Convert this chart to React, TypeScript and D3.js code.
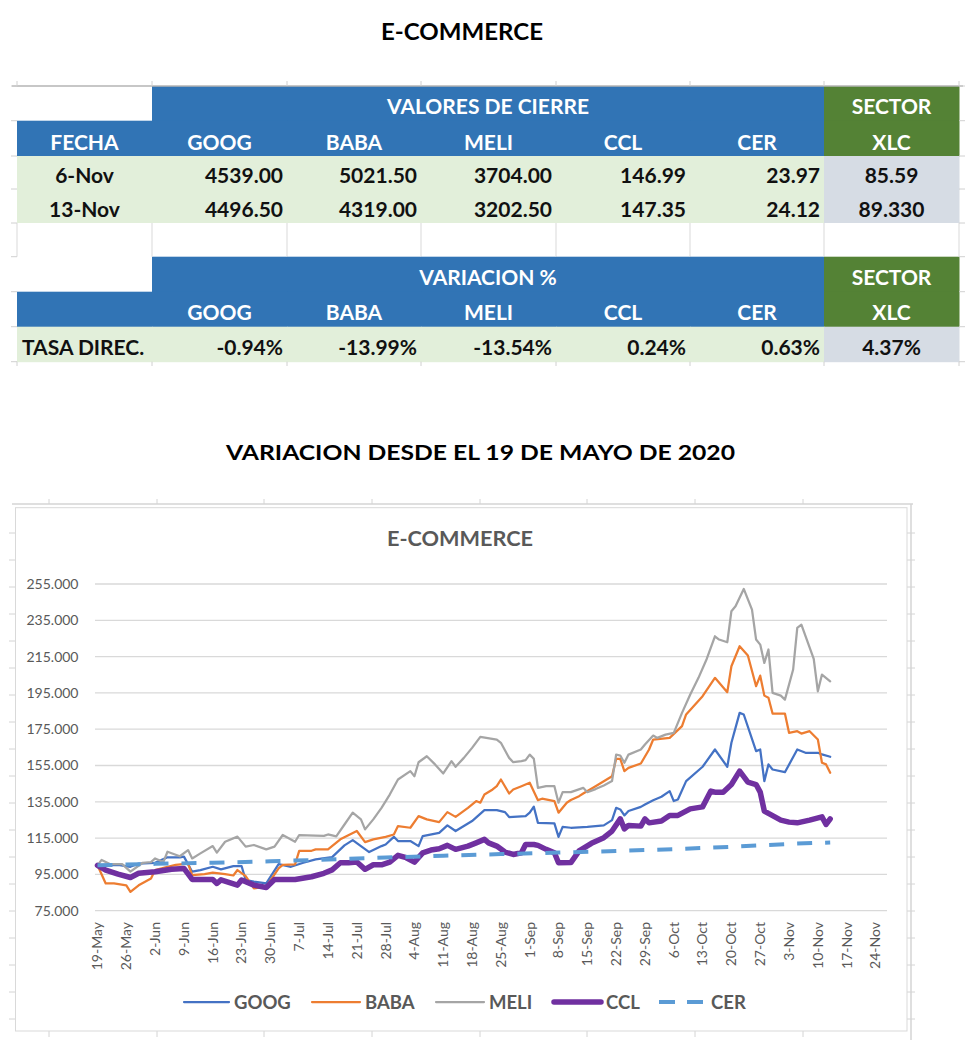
import React from "react";
import * as d3 from "d3";

// ---------- TABLE DATA ----------
const closeHeader = ["FECHA", "GOOG", "BABA", "MELI", "CCL", "CER", "XLC"];
const closeRow1 = ["6-Nov", "4539.00", "5021.50", "3704.00", "146.99", "23.97", "85.59"];
const closeRow2 = ["13-Nov", "4496.50", "4319.00", "3202.50", "147.35", "24.12", "89.330"];
const varHeader = ["", "GOOG", "BABA", "MELI", "CCL", "CER", "XLC"];
const varRow = ["TASA DIREC.", "-0.94%", "-13.99%", "-13.54%", "0.24%", "0.63%", "4.37%"];

// ---------- CHART DATA (days since 19-May-2020, index 19-May = 100) ----------
const googDays = [0, 5, 8, 10, 14, 17, 20, 21, 23, 25, 28, 30, 33, 35, 36, 38, 41, 44, 47, 50, 53, 57, 60, 62, 64, 66, 69, 70, 72, 73, 76, 78, 79, 83, 85, 87, 91, 94, 97, 99, 100, 104, 105, 106, 107, 111, 112, 113, 115, 119, 123, 125, 126, 127, 128, 129, 132, 133, 135, 137, 139, 140, 141, 143, 147, 150, 153, 154, 156, 157, 160, 161, 162, 163, 164, 167, 170, 172, 175, 176, 178];
const googValues = [100, 100.2, 99.2, 101, 101.4, 104.4, 104.4, 104.8, 96.5, 97.4, 99.2, 97.8, 99.6, 99.6, 91.9, 91, 90, 100.7, 99.2, 101.4, 103.3, 104.5, 111, 113.9, 110.6, 107.3, 110.6, 111.5, 115.7, 113.4, 113.4, 110.6, 116.1, 117.9, 122, 118.9, 124.4, 130.4, 130.4, 129.3, 126.6, 127.1, 129, 132.3, 123.4, 123.1, 115.7, 121.2, 120.7, 121.2, 122, 124.9, 131.7, 130.8, 127.5, 129.9, 132.2, 133.5, 135.9, 137.8, 140.9, 135.4, 136.3, 146.4, 154.3, 163.8, 154.3, 167.5, 184, 183.1, 162.9, 163.8, 146.4, 155.6, 152.8, 151.3, 163.8, 162, 162, 161.1, 159.8];

const babaDays = [0, 2, 4, 7, 8, 10, 13, 14, 17, 19, 22, 23, 26, 28, 31, 33, 34, 36, 38, 41, 44, 45, 48, 49, 52, 53, 56, 59, 63, 65, 67, 70, 72, 73, 76, 78, 80, 83, 85, 87, 90, 92, 93, 94, 96, 97, 98, 100, 101, 103, 105, 107, 108, 111, 112, 114, 115, 117, 118, 121, 125, 126, 127, 128, 129, 132, 134, 135, 139, 142, 143, 147, 150, 153, 154, 156, 158, 160, 161, 162, 163, 164, 167, 168, 170, 171, 173, 175, 176, 177, 178];
const babaValues = [100, 90, 90, 89, 85.4, 89, 92.8, 97.4, 99.2, 100.2, 101, 94.6, 95.2, 96, 95.2, 94.4, 97.4, 94, 87.3, 88.2, 98.3, 100.2, 100.5, 108, 108, 108.8, 108.8, 114.3, 118.9, 112.8, 114.3, 115.7, 117, 121.6, 120.7, 127.1, 125.3, 123.8, 129.3, 126.7, 131.7, 135.4, 134.5, 139, 141.8, 143.6, 147.3, 139.6, 141.8, 143.6, 145.5, 135.9, 136.7, 135.4, 129, 134.5, 136, 138.1, 139.6, 143.6, 149.1, 158.7, 158.7, 151.9, 153.7, 156.1, 163.8, 169.3, 170.2, 176.7, 183.1, 193.2, 203.3, 195.4, 209.7, 220.7, 215.6, 198.7, 204.5, 193.5, 192.3, 183.6, 183.6, 173, 173.9, 172.6, 173.9, 169.3, 156.5, 155.6, 151];

const meliDays = [0, 1, 3, 6, 8, 11, 13, 14, 16, 17, 20, 22, 23, 25, 28, 29, 31, 34, 36, 38, 41, 43, 45, 48, 49, 55, 56, 58, 60, 62, 64, 65, 67, 69, 71, 73, 76, 77, 78, 80, 82, 84, 86, 87, 89, 91, 93, 97, 98, 100, 101, 103, 104, 105, 106, 107, 109, 111, 112, 113, 115, 118, 119, 121, 123, 125, 126, 127, 128, 129, 132, 133, 135, 136, 138, 140, 142, 144, 146, 148, 150, 151, 153, 154, 155, 157, 159, 160, 161, 162, 163, 164, 166, 167, 169, 170, 171, 174, 175, 176, 178];
const meliValues = [100, 103, 100.7, 100.7, 96.5, 101.4, 101.8, 103.8, 101.8, 107.5, 105, 108.4, 103.8, 106.6, 110.6, 107, 113, 115.8, 110.3, 111.2, 108.8, 110.3, 116.7, 113, 116.7, 116.2, 117, 116, 122.5, 129, 125.3, 119.8, 125.3, 131.7, 139, 147.3, 151.9, 149.1, 156.8, 160.1, 155.6, 150.6, 157.4, 154.3, 159.2, 164.7, 170.8, 169.3, 167.5, 159.2, 156.8, 157.4, 158, 161, 158.7, 142.7, 143.6, 143.6, 134.5, 140.3, 140.3, 142.7, 140.3, 142, 144, 146.4, 161, 160.5, 156.5, 161, 163.8, 166.6, 171.5, 170.2, 172, 173, 184, 194.1, 203.3, 213.7, 226.2, 224.4, 222.9, 240, 242.7, 252.3, 240.9, 224.4, 221.6, 211.5, 218.9, 195, 193.5, 191.3, 207.9, 230.8, 232.6, 213.7, 195.9, 205.1, 201.4];

const cclDays = [0, 2, 5, 8, 10, 14, 18, 21, 23, 28, 29, 30, 34, 35, 38, 41, 43, 48, 52, 55, 57, 59, 61, 63, 65, 67, 69, 71, 73, 75, 77, 79, 81, 83, 85, 87, 90, 92, 94, 95, 97, 99, 101, 103, 104, 106, 107, 109, 111, 112, 115, 117, 120, 123, 125, 127, 128, 129, 132, 133, 134, 137, 139, 141, 144, 147, 149, 150, 152, 154, 156, 158, 160, 161, 162, 163, 166, 168, 170, 173, 176, 177, 178];
const cclValues = [100, 97.4, 95.2, 93.3, 95.6, 96.5, 97.8, 98.3, 92.2, 92.2, 90, 92, 89.1, 91.9, 89.1, 87.8, 92.2, 92.2, 93.7, 95.6, 97.5, 101.4, 101.4, 101.8, 97.8, 100.3, 100.3, 101.8, 105.5, 104.2, 101.8, 106.9, 108.4, 109.1, 111, 108.8, 110.6, 112.4, 114.3, 112.4, 110.6, 107.3, 106, 106.9, 111.5, 111.5, 111, 108.8, 106.9, 101.4, 101.5, 108, 112.1, 115.2, 118.9, 125.6, 120.1, 122, 121.6, 125.6, 123.4, 124.4, 127.5, 127.5, 131.1, 132.2, 140.9, 140.3, 140.3, 144.5, 151.9, 145.8, 144.5, 140.3, 129.9, 128.6, 124.9, 123.8, 123.4, 124.9, 126.7, 122.5, 125.6];

const cerDays = [0, 14, 28, 42, 56, 70, 84, 98, 112, 126, 140, 154, 168, 178];
const cerValues = [100, 100.8, 101.4, 102.2, 103.2, 104.3, 105.3, 106.2, 107, 107.9, 108.9, 110.2, 111.8, 112.6];

const seriesNames = ["GOOG", "BABA", "MELI", "CCL", "CER"];
const yTickValues = [75, 95, 115, 135, 155, 175, 195, 215, 235, 255];

// ---------- STYLES ----------
const seriesStyle: Record<string, { color: string; width: number; dash?: string }> = {
  GOOG: { color: "#4472C4", width: 2.25 },
  BABA: { color: "#ED7D31", width: 2.25 },
  MELI: { color: "#A5A5A5", width: 2.25 },
  CCL: { color: "#7030A0", width: 5.5 },
  CER: { color: "#5B9BD5", width: 4, dash: "15,13" },
};

const FONT = "Lato, 'Noto Sans', sans-serif";
const BLUE = "#3174B5";
const GREEN = "#548235";
const LGREEN = "#E2EFDA";
const LGREY = "#D6DCE4";

const DAY_MS = 864e5;
const BASE = Date.UTC(2020, 4, 19);
const dayToDate = (d: number) => new Date(BASE + d * DAY_MS);

function zip(days: number[], vals: number[]): [number, number][] {
  return days.map((d, i) => [d, vals[i]]);
}

const seriesData: Record<string, [number, number][]> = {
  GOOG: zip(googDays, googValues),
  BABA: zip(babaDays, babaValues),
  MELI: zip(meliDays, meliValues),
  CCL: zip(cclDays, cclValues),
  CER: zip(cerDays, cerValues),
};

function Table() {
  const cols = [17, 152, 287, 421, 556, 690, 824, 959];
  const rows = [86, 120.7, 156, 189, 223, 256.7, 291.7, 326.7, 361.7];
  const cells: JSX.Element[] = [];
  const texts: JSX.Element[] = [];
  const fillFor = (r: number, c: number) => {
    if (r === 0 || r === 5) return c === 0 ? "#FFFFFF" : c === 6 ? GREEN : BLUE;
    if (r === 1 || r === 6) return c === 6 ? GREEN : BLUE;
    if (r === 2 || r === 3 || r === 7) return c === 6 ? LGREY : LGREEN;
    return "#FFFFFF";
  };
  for (let r = 0; r < 8; r++) {
    for (let c = 0; c < 7; c++) {
      cells.push(
        <rect key={`c${r}-${c}`} x={cols[c]} y={rows[r]} width={cols[c + 1] - cols[c] + 0.5} height={rows[r + 1] - rows[r] + 0.5} fill={fillFor(r, c)} />
      );
    }
  }
  const base = (r: number) => rows[r + 1] - 6.5;
  const center = (c: number) => (cols[c] + cols[c + 1]) / 2;
  const txt = (key: string, x: number, yb: number, s: string, anchor: string, fill: string) => (
    <text key={key} x={x} y={yb} textAnchor={anchor as any} fill={fill} fontFamily={FONT} fontWeight={700} fontSize={21}>
      {s}
    </text>
  );
  texts.push(txt("t0", (cols[1] + cols[6]) / 2, base(0), "VALORES DE CIERRE", "middle", "#fff"));
  texts.push(txt("t1", center(6), base(0), "SECTOR", "middle", "#fff"));
  texts.push(txt("t2", (cols[1] + cols[6]) / 2, base(5), "VARIACION %", "middle", "#fff"));
  texts.push(txt("t3", center(6), base(5), "SECTOR", "middle", "#fff"));
  closeHeader.forEach((s, c) => texts.push(txt(`h${c}`, center(c), base(1), s, "middle", "#fff")));
  varHeader.forEach((s, c) => s && texts.push(txt(`vh${c}`, center(c), base(6), s, "middle", "#fff")));
  [closeRow1, closeRow2].forEach((row, i) =>
    row.forEach((s, c) => {
      if (c === 0 || c === 6) texts.push(txt(`d${i}-${c}`, center(c), base(2 + i), s, "middle", "#111"));
      else texts.push(txt(`d${i}-${c}`, cols[c + 1] - 4, base(2 + i), s, "end", "#111"));
    })
  );
  varRow.forEach((s, c) => {
    if (c === 0) texts.push(txt(`v${c}`, cols[0] + 5, base(7), s, "start", "#111"));
    else if (c === 6) texts.push(txt(`v${c}`, center(c), base(7), s, "middle", "#111"));
    else texts.push(txt(`v${c}`, cols[c + 1] - 4, base(7), s, "end", "#111"));
  });
  const lines: JSX.Element[] = [];
  cols.forEach((cx, i) =>
    lines.push(<line key={`gl${i}`} x1={cx} x2={cx} y1={rows[4]} y2={rows[5]} stroke="#D9D9D9" strokeWidth={1} />)
  );
  lines.push(<line key="top" x1={12} x2={963} y1={rows[0]} y2={rows[0]} stroke="#B4B4B4" strokeWidth={1.5} />);
  rows.forEach((ry, i) => {
    lines.push(<line key={`lt${i}`} x1={11} x2={17} y1={ry} y2={ry} stroke="#D0D0D0" strokeWidth={1} />);
    lines.push(<line key={`rt${i}`} x1={959} x2={965} y1={ry} y2={ry} stroke="#D0D0D0" strokeWidth={1} />);
  });
  cols.forEach((cx, i) => {
    lines.push(<line key={`tt${i}`} x1={cx} x2={cx} y1={81} y2={86} stroke="#D0D0D0" strokeWidth={1} />);
    lines.push(<line key={`bt${i}`} x1={cx} x2={cx} y1={361.7} y2={366} stroke="#D0D0D0" strokeWidth={1} />);
  });
  return (
    <g>
      {cells}
      {lines}
      {texts}
    </g>
  );
}

function Chart() {
  const x = d3.scaleUtc().domain([dayToDate(-0.607), dayToDate(191.8)]).range([95, 887]);
  const y = d3.scaleLinear().domain([75, 255]).range([910.7, 584]);
  const xTicks = d3.utcDay.range(dayToDate(0), dayToDate(190), 7);
  const fmtX = d3.utcFormat("%-d-%b");
  const fmtY = d3.format(".3f");
  const line = d3
    .line<[number, number]>()
    .x((d) => x(dayToDate(d[0])))
    .y((d) => y(d[1]));

  const legendLineX = [184, 312, 436, 554, 659];
  const legendLineW = [45, 48, 48, 47, 44];
  const legendY = 1002;

  const sheetTicksX = [49, 157, 264, 372, 480, 587, 695, 803];
  const sheetTicksY = d3.range(533, 1031, 27);

  return (
    <g>
      <line x1={12} x2={913} y1={504} y2={504} stroke="#D4D4D4" strokeWidth={1.5} />
      <line x1={911} x2={911} y1={504} y2={1040} stroke="#D4D4D4" strokeWidth={1.5} />
      {sheetTicksX.map((sx, i) => (
        <g key={`st${i}`}>
          <line x1={sx} x2={sx} y1={499} y2={504} stroke="#D4D4D4" strokeWidth={1} />
          <line x1={sx} x2={sx} y1={1031} y2={1037} stroke="#D4D4D4" strokeWidth={1} />
        </g>
      ))}
      {sheetTicksY.map((sy, i) => (
        <g key={`sy${i}`}>
          <line x1={9} x2={15} y1={sy} y2={sy} stroke="#D4D4D4" strokeWidth={1} />
          <line x1={907} x2={915} y1={sy} y2={sy} stroke="#D4D4D4" strokeWidth={1} />
        </g>
      ))}
      <rect x={15.5} y={507.7} width={891.5} height={523.3} fill="#FFFFFF" stroke="#D9D9D9" strokeWidth={1} />
      <text x={460} y={546} textAnchor="middle" fontFamily={FONT} fontWeight={700} fontSize={21} fill="#595959" textLength={146} lengthAdjust="spacingAndGlyphs">
        E-COMMERCE
      </text>
      {yTickValues.map((v) => (
        <g key={`y${v}`}>
          <line x1={95} x2={887} y1={y(v)} y2={y(v)} stroke="#D9D9D9" strokeWidth={1.3} />
          <text x={78.5} y={y(v)} dy="0.35em" textAnchor="end" fontFamily={FONT} fontSize={14} fill="#595959">
            {fmtY(v)}
          </text>
        </g>
      ))}
      {xTicks.map((t, i) => (
        <text
          key={`x${i}`}
          transform={`translate(${x(t)},922) rotate(-90)`}
          textAnchor="end"
          dy="0.35em"
          fontFamily={FONT}
          fontSize={14}
          fill="#595959"
        >
          {fmtX(t)}
        </text>
      ))}
      {seriesNames.map((n) => {
        const st = seriesStyle[n];
        return (
          <path
            key={n}
            d={line(seriesData[n]) || ""}
            fill="none"
            stroke={st.color}
            strokeWidth={st.width}
            strokeDasharray={st.dash}
            strokeLinejoin="round"
            strokeLinecap={st.dash ? "butt" : "round"}
          />
        );
      })}
      {seriesNames.map((n, i) => {
        const st = seriesStyle[n];
        const lx = legendLineX[i];
        const lw = legendLineW[i];
        return (
          <g key={`lg${n}`}>
            <line
              x1={lx}
              x2={lx + lw}
              y1={legendY}
              y2={legendY}
              stroke={st.color}
              strokeWidth={st.width}
              strokeDasharray={st.dash ? "16,12" : undefined}
              strokeLinecap={st.dash ? "butt" : "round"}
            />
            <text x={lx + lw + (n === "CER" ? 8 : 5)} y={legendY} dy="0.36em" fontFamily={FONT} fontWeight={700} fontSize={18.5} fill="#595959">
              {n}
            </text>
          </g>
        );
      })}
    </g>
  );
}

export default function App() {
  return (
    <div style={{ position: "absolute", left: 0, top: 0 }}>
      <svg width={980} height={1050} viewBox="0 0 980 1050" style={{ display: "block", background: "#FFFFFF" }}>
        <rect x={0} y={0} width={980} height={1050} fill="#FFFFFF" />
        <text x={462} y={40} textAnchor="middle" fontFamily={FONT} fontWeight={700} fontSize={22} fill="#000" textLength={162} lengthAdjust="spacingAndGlyphs">
          E-COMMERCE
        </text>
        <Table />
        <text x={480.5} y={460} textAnchor="middle" fontFamily={FONT} fontWeight={700} fontSize={21} fill="#000" textLength={509} lengthAdjust="spacingAndGlyphs">
          VARIACION DESDE EL 19 DE MAYO DE 2020
        </text>
        <Chart />
      </svg>
    </div>
  );
}
